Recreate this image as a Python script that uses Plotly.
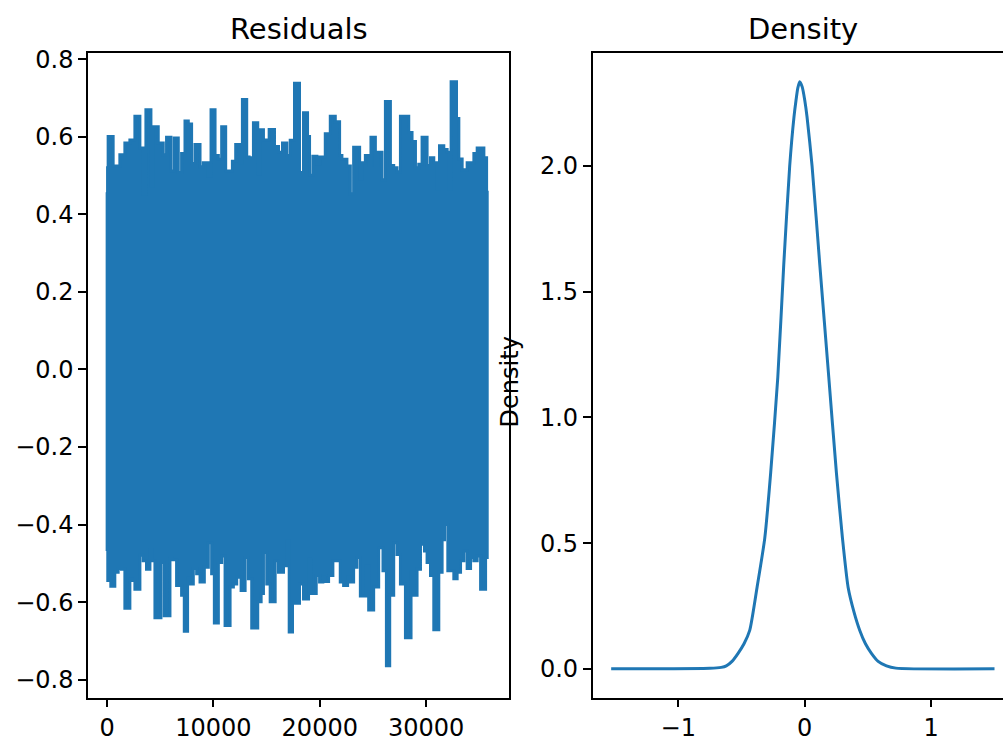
import plotly.graph_objects as go

# ---- Residuals panel: envelope (sample index, residual) ----
upper_idx = [0, 40, 94, 566, 1197, 1668, 2139, 2611, 3082, 3393, 3647, 4119, 4336, 4807, 5278,
             5589, 6004, 6315, 6692, 7003, 7323, 7634, 7945, 8266, 8737, 9048, 9519, 9773, 10151,
             10462, 10773, 11150, 11404, 11781, 12093, 12469, 12724, 13129, 13355, 13761, 14166,
             14392, 14703, 15240, 15740, 16117, 16494, 16899, 17220, 17625,
             18096, 18473, 18850, 19039, 19353, 19730, 19981, 20518, 20989, 21461, 21866, 22083,
             22554, 22875, 23186, 23751, 23968, 24289, 24600, 24816, 25231, 25448, 25853, 26174,
             26645, 26956, 27267, 27588, 28369, 28680, 29001, 29312, 29623, 30094, 30415, 30726,
             31037, 31263, 31668, 31979, 32139, 32356, 32865, 33082, 33393, 33864, 34185, 34496,
             34807, 35438, 35693]
upper_val = [0.457, 0.520, 0.601, 0.525, 0.554, 0.584, 0.592, 0.653, 0.571, 0.453, 0.670, 0.474,
             0.626, 0.584, 0.554, 0.599, 0.512, 0.597, 0.508, 0.557, 0.641, 0.633, 0.531, 0.580,
             0.523, 0.533, 0.499, 0.670, 0.552, 0.542, 0.626, 0.512, 0.512, 0.537, 0.580, 0.533,
             0.696, 0.548, 0.546, 0.636, 0.504, 0.618, 0.592, 0.619, 0.575, 0.560, 0.584, 0.552,
             0.591, 0.738,
             0.508, 0.662, 0.601, 0.501, 0.550, 0.529, 0.548, 0.608, 0.653, 0.639, 0.552, 0.542,
             0.525, 0.453, 0.573, 0.491, 0.533, 0.552, 0.526, 0.599, 0.526, 0.560, 0.489, 0.691,
             0.526, 0.520, 0.510, 0.653, 0.611, 0.588, 0.520, 0.529, 0.599, 0.526, 0.546, 0.533,
             0.466, 0.577, 0.567, 0.560, 0.466, 0.742, 0.647, 0.543, 0.515, 0.533, 0.533, 0.557,
             0.571, 0.546, 0.457]

lower_idx = [0, 60, 346, 723, 1037, 1348, 1668, 2139, 2356, 2611, 3082, 3393, 3704, 4025, 4241,
             4496, 5061, 5372, 5909, 6126, 6532, 7003, 7257, 7568, 7794, 8106, 8417, 8737, 9142,
             9519, 9830, 10085, 10462, 10773, 11093, 11564, 11876, 12187, 12601, 12978, 13289,
             13600, 14166, 14486, 14703, 15014, 15335, 15806, 16117, 16588, 16899, 17125, 17436,
             18096, 18473, 18944, 19165, 19667, 19981, 20292, 20518, 20829, 21235, 21928, 22243,
             22620, 22875, 23186, 23497, 23818, 24383, 24600, 25071, 25542, 25947, 26268, 26579,
             26956, 27267, 27588, 28059, 28586, 28841, 29152, 29473, 29849, 30094, 30415, 30726,
             31197, 31508, 31734, 32045, 32611, 32922, 33243, 33554, 33864, 34185, 34496, 34807,
             35128, 35598]
lower_val = [-0.464, -0.544, -0.559, -0.523, -0.513, -0.515, -0.616, -0.540, -0.544, -0.567,
             -0.479, -0.493, -0.515, -0.464, -0.493, -0.640, -0.498, -0.635, -0.485, -0.491,
             -0.557, -0.582, -0.675, -0.538, -0.553, -0.513, -0.527, -0.548, -0.510, -0.447,
             -0.527, -0.654, -0.498, -0.481, -0.660, -0.561, -0.553, -0.536, -0.570, -0.485,
             -0.540, -0.667, -0.599, -0.578, -0.472, -0.553, -0.599, -0.493, -0.523, -0.506,
             -0.443, -0.677, -0.603,
             -0.553, -0.592, -0.489, -0.578, -0.531, -0.548, -0.536, -0.547, -0.531, -0.493,
             -0.548, -0.557, -0.536, -0.548, -0.510, -0.485, -0.584, -0.506, -0.620, -0.561,
             -0.460, -0.519, -0.764, -0.582, -0.447, -0.477, -0.553, -0.692, -0.523, -0.582,
             -0.515, -0.451, -0.468, -0.498, -0.531, -0.671, -0.523, -0.439, -0.400, -0.519,
             -0.540, -0.523, -0.493, -0.468, -0.513, -0.485, -0.493, -0.481, -0.567, -0.485]
last_index = 35750

# ---- Density panel: KDE curve ----
density_x = [-1.53, -0.75, -0.66, -0.62, -0.575, -0.527, -0.48, -0.435, -0.377,
             -0.316, -0.269, -0.213, -0.166, -0.119, -0.085, -0.069, -0.055, -0.040, -0.02, 0.0,
             0.018, 0.058, 0.119, 0.19, 0.25, 0.298, 0.343, 0.39, 0.435, 0.48, 0.527, 0.58,
             0.646, 0.72, 1.50]
density_y = [0.0, 0.002, 0.006, 0.012, 0.030, 0.062, 0.100, 0.153, 0.324, 0.520,
             0.782, 1.160, 1.607, 2.000, 2.196, 2.262, 2.310, 2.335, 2.315, 2.262, 2.196, 2.000,
             1.607, 1.160, 0.782, 0.520, 0.324, 0.225, 0.153, 0.100, 0.062, 0.030, 0.012, 0.003,
             0.0]

res_xticks = [0, 10000, 20000, 30000]
res_yticks = [-0.8, -0.6, -0.4, -0.2, 0.0, 0.2, 0.4, 0.6, 0.8]
den_xticks = [-1, 0, 1]
den_yticks = [0.0, 0.5, 1.0, 1.5, 2.0]

BLUE = "#1f77b4"
FONT = "DejaVu Sans"
W, H = 1003, 742
TICK_SIZE = 24
TITLE_SIZE = 29


def step_points(idx, val, end):
    xs, ys = [], []
    for i, v in enumerate(val):
        x0 = idx[i]
        x1 = idx[i + 1] if i + 1 < len(idx) else end
        xs += [x0, x1]
        ys += [v, v]
    return xs, ys


ux, uy = step_points(upper_idx, upper_val, last_index)
lx, ly = step_points(lower_idx, lower_val, last_index)
poly_x = ux + lx[::-1] + [ux[0]]
poly_y = uy + ly[::-1] + [uy[0]]

fig = go.Figure()
fig.add_trace(go.Scatter(x=poly_x, y=poly_y, mode="lines", fill="toself", fillcolor=BLUE,
                         line=dict(color=BLUE, width=3), xaxis="x", yaxis="y",
                         hoverinfo="skip", showlegend=False))
fig.add_trace(go.Scatter(x=density_x, y=density_y, mode="lines",
                         line=dict(color=BLUE, width=3, shape="spline", smoothing=0.6),
                         xaxis="x2", yaxis="y2", showlegend=False))

ydom = [1 - 698 / H, 1 - 46 / H]
axis_common = dict(showgrid=False, zeroline=False, showline=True, linecolor="black",
                   linewidth=1.5, ticks="outside", ticklen=8, tickwidth=1.5,
                   tickcolor="black", tickfont=dict(family=FONT, size=TICK_SIZE, color="black"))

fig.update_layout(
    width=W, height=H,
    margin=dict(l=0, r=0, t=0, b=0),
    paper_bgcolor="white", plot_bgcolor="white",
    showlegend=False,
    xaxis=dict(domain=[88 / W, 509 / W], range=[-1800, 37800], anchor="y", mirror=True,
               tickvals=res_xticks, ticktext=[str(v) for v in res_xticks], **axis_common),
    yaxis=dict(domain=ydom, range=[-0.846, 0.815], anchor="x", mirror=True,
               tickvals=res_yticks, tickformat=".1f", **axis_common),
    xaxis2=dict(domain=[592.7 / W, 1.0], range=[-1.676, 1.567], anchor="y2", mirror=True,
                tickvals=den_xticks, ticktext=["\u22121", "0", "1"], **axis_common),
    yaxis2=dict(domain=ydom, range=[-0.114, 2.448], anchor="x2", mirror=False,
                tickvals=den_yticks, tickformat=".1f", **axis_common),
    annotations=[
        dict(text="Residuals", x=298.5 / W, y=1 - 21 / H, xref="paper", yref="paper",
             xanchor="center", yanchor="middle", showarrow=False,
             font=dict(family=FONT, size=TITLE_SIZE, color="black")),
        dict(text="Density", x=803 / W, y=1 - 21 / H, xref="paper", yref="paper",
             xanchor="center", yanchor="middle", showarrow=False,
             font=dict(family=FONT, size=TITLE_SIZE, color="black")),
        dict(text="Density", x=510 / W, y=1 - 379 / H, xref="paper", yref="paper",
             xanchor="center", yanchor="middle", showarrow=False, textangle=-90,
             font=dict(family=FONT, size=TICK_SIZE, color="black")),
    ],
)

fig.write_html("out.html")
